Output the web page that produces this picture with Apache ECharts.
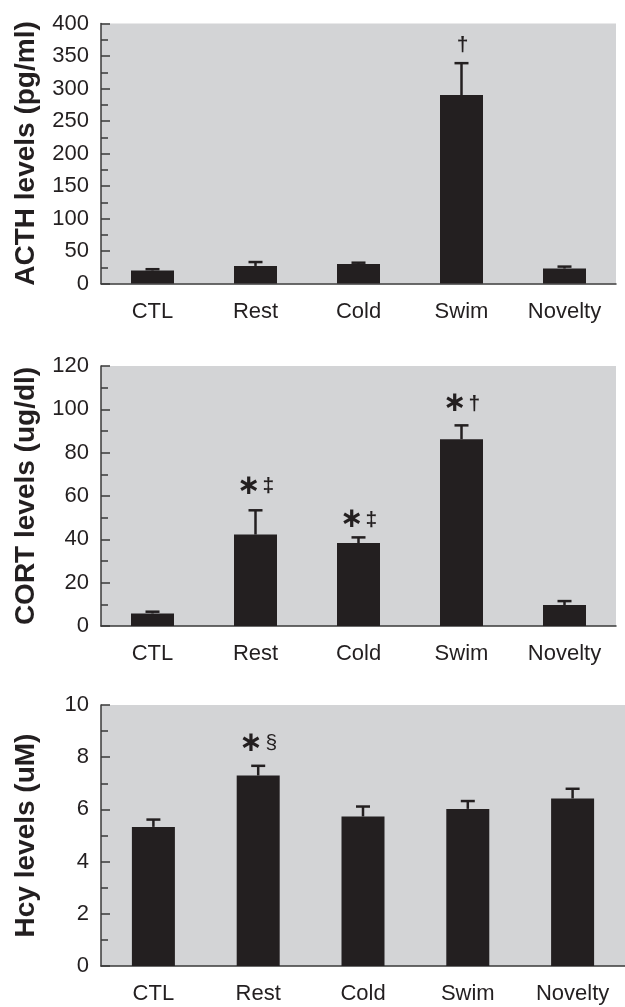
<!DOCTYPE html>
<html>
<head>
<meta charset="utf-8">
<script src="https://cdn.jsdelivr.net/npm/echarts@6/dist/echarts.min.js"></script>
<style>
  html, body { margin: 0; padding: 0; background: #fff; }
  #main { width: 625px; height: 1007px; }
</style>
</head>
<body>
<div id="main"></div>
<script>
// 数据
var categories = ['CTL', 'Rest', 'Cold', 'Swim', 'Novelty'];

var acthMean = [20, 27, 30, 290, 23];
var acthErr = [2, 6, 2, 49, 3];
var acthMarks = ['', '', '', '†', ''];
var acthMarkAt = [null, null, null, 367, null];

var cortMean = [5.8, 42.2, 38.3, 86.2, 9.7];
var cortErr = [0.8, 11.2, 2.6, 6.4, 1.8];
var cortMarks = ['', '*‡', '*‡', '*†', ''];
var cortMarkAt = [null, 64.3, 48.9, 102.5, null];

var hcyMean = [5.33, 7.30, 5.73, 6.02, 6.42];
var hcyErr = [0.28, 0.37, 0.38, 0.30, 0.37];
var hcyMarks = ['', '*§', '', '', ''];
var hcyMarkAt = [null, 8.53, null, null, null];

var myChart = echarts.init(document.getElementById('main'));

var ink = '#231f20';
var font = 'Liberation Sans';

// 星号用居中的 ∗，§ 用细体，其余符号加粗
function markText(t) {
    return t.split('').map(function (c) {
        if (c === '*') return '{s|\u2217}';
        if (c === '§') return '{p|' + c + '}';
        return '{d|' + c + '}';
    }).join('');
}

function errorSeries(idx, mean, err) {
    return {
        type: 'custom',
        xAxisIndex: idx,
        yAxisIndex: idx,
        z: 5,
        data: mean.map(function (m, i) { return [i, m, m + err[i]]; }),
        renderItem: function (params, api) {
            var p0 = api.coord([api.value(0), api.value(1)]);
            var p1 = api.coord([api.value(0), api.value(2)]);
            var style = { stroke: ink, lineWidth: 2.5 };
            return {
                type: 'group',
                children: [
                    { type: 'line', shape: { x1: p0[0], y1: p0[1], x2: p1[0], y2: p1[1] }, style: style },
                    { type: 'line', shape: { x1: p1[0] - 7, y1: p1[1], x2: p1[0] + 7, y2: p1[1] }, style: style }
                ]
            };
        }
    };
}

function markSeries(idx, marks, at, offsets) {
    var data = [];
    marks.forEach(function (m, i) {
        if (!m) return;
        data.push({
            value: [i, at[i]],
            label: { formatter: markText(m), offset: [offsets[i] || 0, 0] }
        });
    });
    return {
        type: 'scatter',
        xAxisIndex: idx,
        yAxisIndex: idx,
        symbolSize: 1,
        itemStyle: { color: 'rgba(0,0,0,0)', opacity: 1 },
        z: 6,
        label: {
            show: true,
            position: 'inside',
            rich: {
                s: { fontFamily: 'DejaVu Sans', fontWeight: 'bold', fontSize: 28, color: ink },
                d: { fontFamily: font, fontWeight: 'bold', fontSize: 21, color: ink, padding: [0, 0, 0, 2] },
                p: { fontFamily: font, fontSize: 21, color: ink, padding: [0, 0, 0, 3] }
            }
        },
        labelLayout: { hideOverlap: false },
        data: data
    };
}

function barSeries(idx, mean) {
    return {
        type: 'bar',
        xAxisIndex: idx,
        yAxisIndex: idx,
        barWidth: 43,
        itemStyle: { color: ink },
        data: mean
    };
}

function xAxisFor(idx) {
    return {
        type: 'category',
        gridIndex: idx,
        data: categories,
        axisLine: { lineStyle: { color: '#3a3a3a', width: 1.5 } },
        axisTick: { show: false },
        axisLabel: { color: ink, fontFamily: font, fontSize: 22, margin: 17 }
    };
}

function yAxisFor(idx, name, max, interval) {
    return {
        type: 'value',
        gridIndex: idx,
        min: 0,
        max: max,
        interval: interval,
        name: name,
        nameLocation: 'middle',
        nameRotate: 90,
        nameGap: 61,
        nameTextStyle: { fontFamily: font, fontWeight: 'bold', fontSize: 28, color: ink },
        axisLine: { show: true, lineStyle: { color: '#3a3a3a', width: 1.5 } },
        axisTick: { show: true, inside: true, length: 9, lineStyle: { color: '#3a3a3a', width: 1.5 } },
        minorTick: { show: true, splitNumber: 2, length: 7, lineStyle: { color: '#3a3a3a', width: 1.5 } },
        splitLine: { show: false },
        axisLabel: { color: ink, fontFamily: font, fontSize: 22, margin: 12 }
    };
}

var gridBase = { show: true, backgroundColor: '#d3d4d6', borderWidth: 0 };

option = {
    backgroundColor: '#fff',
    animation: false,
    grid: [
        Object.assign({ left: 101, top: 23.5, width: 515, height: 260 }, gridBase),
        Object.assign({ left: 101, top: 366, width: 515, height: 260 }, gridBase),
        Object.assign({ left: 101, top: 705, width: 528, height: 261 }, gridBase)
    ],
    xAxis: [xAxisFor(0), xAxisFor(1), xAxisFor(2)],
    yAxis: [
        yAxisFor(0, 'ACTH levels (pg/ml)', 400, 50),
        yAxisFor(1, 'CORT levels (ug/dl)', 120, 20),
        yAxisFor(2, 'Hcy levels (uM)', 10, 2)
    ],
    series: [
        barSeries(0, acthMean),
        errorSeries(0, acthMean, acthErr),
        markSeries(0, acthMarks, acthMarkAt, [0, 0, 0, -3, 0]),

        barSeries(1, cortMean),
        errorSeries(1, cortMean, cortErr),
        markSeries(1, cortMarks, cortMarkAt, [0, -14, -5, -4, 0]),

        barSeries(2, hcyMean),
        errorSeries(2, hcyMean, hcyErr),
        markSeries(2, hcyMarks, hcyMarkAt, [0, 7, 0, 0, 0])
    ]
};

myChart.setOption(option);
</script>
</body>
</html>
